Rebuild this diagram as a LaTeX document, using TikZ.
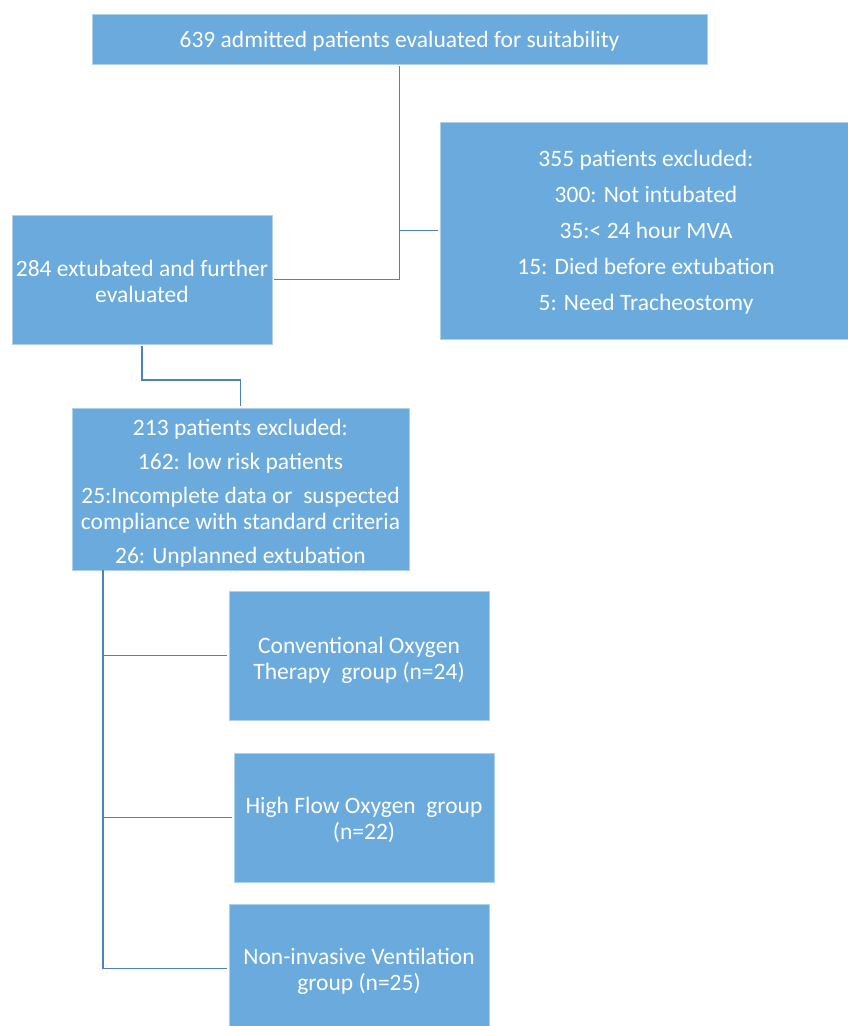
\documentclass[tikz,border=0pt]{standalone}
\usepackage{fontspec}
\setmainfont{Carlito}
\definecolor{boxfill}{RGB}{106,170,220}
\definecolor{boxedge}{RGB}{175,207,235}
\definecolor{linkcol}{RGB}{78,128,187}
\newcommand\tpad[1]{\rule{0pt}{#1}}
\begin{document}
\begin{tikzpicture}[x=1pt,y=-1pt,
  box/.style={rectangle, fill=boxfill, draw=boxedge, line width=0.8pt,
    anchor=north west, inner sep=0pt, outer sep=2pt, text=white, align=center,
    font=\fontsize{23.5}{26}\selectfont},
  link/.style={draw=linkcol, line width=1.7pt}]
\useasboundingbox (0,0) rectangle (847,1026);
\fill[white] (0,0) rectangle (847,1026);

\node[box, minimum width=615pt, minimum height=50pt] (b1) at (90,12)
  {\tpad{20.5pt}639 admitted patients evaluated for suitability};
\node[box, minimum width=412pt, minimum height=217pt] (bx) at (438,120)
  {\tpad{19.5pt}355 patients excluded:\\[9.9pt] 300: Not intubated\\[9.9pt] 35:< 24 hour MVA\\[9.9pt]
   15: Died before extubation\\[9.9pt] 5: Need Tracheostomy};
\node[box, minimum width=260pt, minimum height=129pt] (b2) at (10,213)
  {\tpad{20.5pt}284 extubated and further\\ evaluated};
\node[box, minimum width=337pt, minimum height=162pt] (b3) at (70,406)
  {\tpad{24.5pt}213 patients excluded:\\[8.5pt] 162: low risk patients\\[7.5pt]
   25:Incomplete data or\ \ suspected\\ compliance with standard criteria\\[8.5pt]
   26: Unplanned extubation};
\node[box, minimum width=260pt, minimum height=129pt] (b4) at (227,589)
  {\tpad{26.5pt}Conventional Oxygen\\ Therapy\ \ group (n=24)};
\node[box, minimum width=260pt, minimum height=129pt] (b5) at (232,751)
  {\tpad{21.5pt}High Flow Oxygen\ \ group\\ (n=22)};
\node[box, minimum width=260pt, minimum height=129pt] (b6) at (227,902)
  {\tpad{22.5pt}Non-invasive Ventilation\\ group (n=25)};

\coordinate (trunk) at (103,570);

\draw[link] (b1.south) |- (b2.east);
\draw[link] (b1.south |- bx.west) -- (bx.west);
\draw[link] (b2.south) -- ++(0,34) -| (b3.north);
\draw[link] (trunk) |- (b6.west);
\draw[link] (trunk |- b4.west) -- (b4.west);
\draw[link] (trunk |- b5.west) -- (b5.west);
\end{tikzpicture}
\end{document}
